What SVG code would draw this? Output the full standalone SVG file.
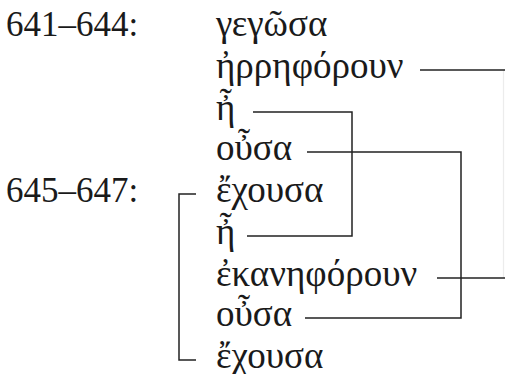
<svg xmlns="http://www.w3.org/2000/svg" width="505" height="374" viewBox="0 0 505 374">
<style>
text{font-family:"Liberation Serif","DejaVu Serif",serif;font-size:35px;fill:#1a1a1a}
.g{font-size:37px}
.c{fill:none;stroke:#222;stroke-width:1.5}
.f{fill:none;stroke:#ececec;stroke-width:1.2}
</style>
<rect width="505" height="374" fill="#fff"/>
<g id="labels">
<text x="6" y="36">641–644:</text>
<text x="6" y="201.5">645–647:</text>
</g>
<g id="n1"><text class="g" x="216" y="36">γεγῶσα</text></g>
<g id="n2"><text class="g" x="216" y="77.5">ἠρρηφόρουν</text></g>
<g id="n3"><text class="g" x="216" y="119.5">ἦ</text></g>
<g id="n4"><text class="g" x="216" y="159.5">οὖσα</text></g>
<g id="n5"><text class="g" x="216" y="201.5">ἔχουσα</text></g>
<g id="n6"><text class="g" x="216" y="243.5">ἦ</text></g>
<g id="n7"><text class="g" x="216" y="285.5">ἐκανηφόρουν</text></g>
<g id="n8"><text class="g" x="216" y="325.5">οὖσα</text></g>
<g id="n9"><text class="g" x="216" y="367.5">ἔχουσα</text></g>
<g id="connectors">
<path class="f" d="M503.5,70V278"/>
<path class="c" d="M420,70H505"/>
<path class="c" d="M437,278H505"/>
<path class="c" d="M253,112H352V236H247"/>
<path class="c" d="M307,152H461V318H305"/>
<path class="c" d="M196,194H179V360H196"/>
</g>
</svg>
